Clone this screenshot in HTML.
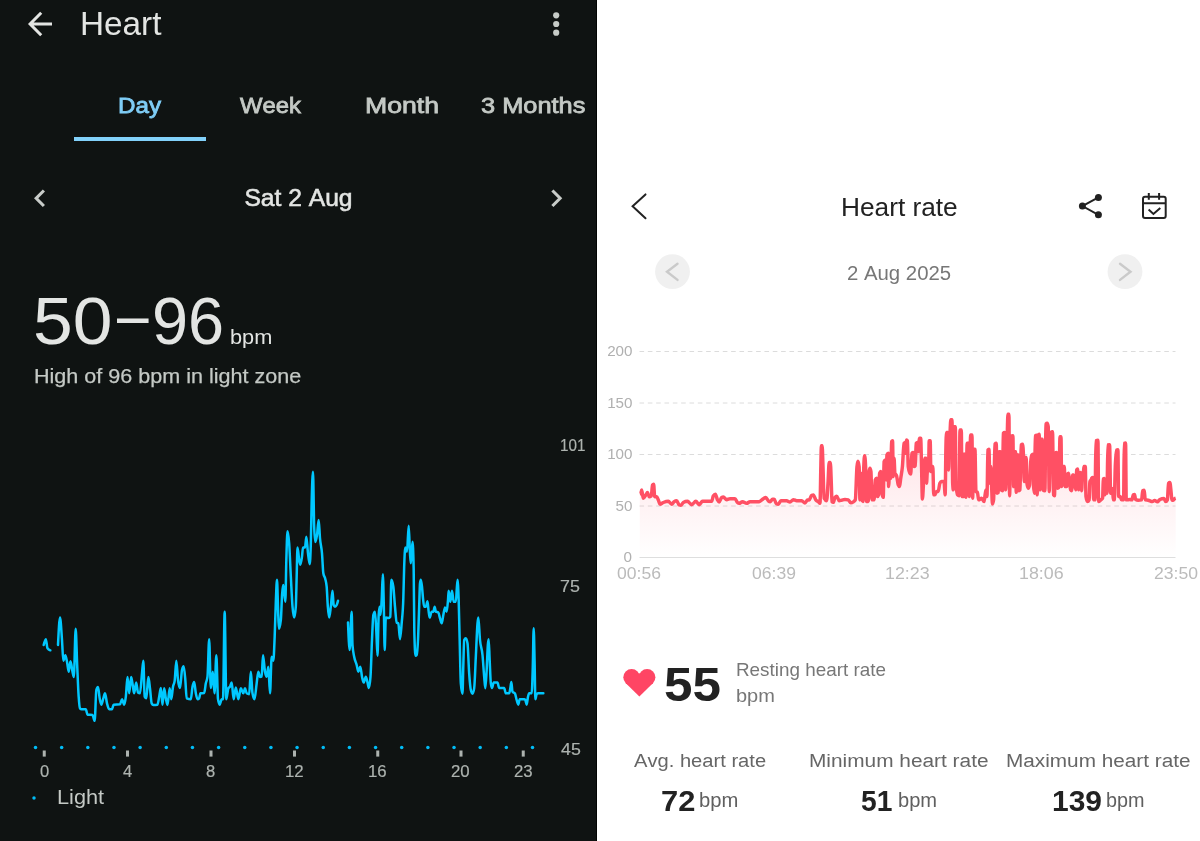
<!DOCTYPE html>
<html lang="en">
<head>
<meta charset="utf-8">
<title>Heart rate comparison</title>
<style>
html,body{margin:0;padding:0;}
body{width:1200px;height:841px;overflow:hidden;background:#ffffff;position:relative;font-family:"Liberation Sans",sans-serif;font-kerning:none;}
.panel{position:absolute;top:0;height:841px;}
#left{left:0;width:597px;background:#0f1312;}
#left:after{content:"";position:absolute;right:0;top:0;width:1px;height:841px;background:#020403;}
#right{left:597px;width:603px;background:#ffffff;}
.t{position:absolute;white-space:nowrap;margin:0;padding:0;transform-origin:0 0;}
svg{position:absolute;left:0;top:0;}
.tabline{position:absolute;left:74.4px;top:137px;width:131.3px;height:3.5px;background:#82d1fa;}
</style>
</head>
<body>
<div class="panel" id="left"></div>
<div class="panel" id="right"></div>
<div class="tabline"></div>
<svg width="1200" height="841" viewBox="0 0 1200 841">
  <defs>
    <linearGradient id="rg" x1="0" y1="410" x2="0" y2="557.5" gradientUnits="userSpaceOnUse">
      <stop offset="0" stop-color="#ff4d62" stop-opacity="0.2"/>
      <stop offset="1" stop-color="#ff4d62" stop-opacity="0"/>
    </linearGradient>
  </defs>
  <!-- left: icons -->
  <g fill="none" stroke="#e3e5e3" stroke-width="3" stroke-linecap="butt" stroke-linejoin="miter">
    <path d="M52,24H31M41.2,12.8L30.1,24L41.2,35.2"/>
  </g>
  <g fill="#c6cbc7">
    <circle cx="556.2" cy="15.3" r="3.1"/><circle cx="556.2" cy="24" r="3.1"/><circle cx="556.2" cy="32.7" r="3.1"/>
  </g>
  <g fill="none" stroke="#c8ccc9" stroke-width="3.1">
    <path d="M43.9,190.5L36.2,198.25L43.9,206"/>
    <path d="M552.4,190.5L560.1,198.25L552.4,206"/>
  </g>
  <!-- left: chart -->
  <g fill="none" stroke="#00c8ff" stroke-width="2.5" stroke-linecap="round" stroke-linejoin="round"><path d="M43.67,645.00C44.39,642.08 45.11,639.17 45.83,639.17C46.39,639.17 46.94,647.55 47.50,648.33C48.44,649.67 49.39,650.00 50.33,650.33"/><path d="M58.00,645.00C58.67,631.25 59.33,617.50 60.00,617.50C60.67,617.50 61.33,630.75 62.00,640.00C62.44,646.17 62.89,660.83 63.33,660.83C64.00,660.83 64.67,655.33 65.33,655.33C65.89,655.33 66.44,658.94 67.00,661.67C67.56,664.39 68.11,671.67 68.67,671.67C69.28,671.67 69.89,661.33 70.50,661.33C71.17,661.33 71.83,668.69 72.50,671.67C72.94,673.65 73.39,677.00 73.83,677.00C74.44,677.00 75.06,628.67 75.67,628.67C76.17,628.67 76.67,653.67 77.17,665.00C77.67,676.33 78.17,689.38 78.67,696.67C79.11,703.14 79.56,707.80 80.00,708.33C80.56,709.00 81.11,709.33 81.67,709.33C83.06,709.33 84.44,709.33 85.83,709.33C86.39,709.33 86.94,714.59 87.50,714.67C89.17,714.89 90.83,714.78 92.50,715.00C93.22,715.10 93.94,720.83 94.67,720.83C95.22,720.83 95.78,692.00 96.33,690.00C96.89,688.00 97.44,687.00 98.00,687.00C98.56,687.00 99.11,695.39 99.67,698.33C100.22,701.28 100.78,704.67 101.33,704.67C102.00,704.67 102.67,700.38 103.33,698.33C103.89,696.62 104.44,693.33 105.00,693.33C105.67,693.33 106.33,700.74 107.00,703.33C107.72,706.14 108.44,709.17 109.17,709.17C110.11,709.17 111.06,709.17 112.00,709.17C112.56,709.17 113.11,704.73 113.67,704.67C115.78,704.44 117.89,704.56 120.00,704.33C120.67,704.26 121.33,699.17 122.00,699.17C122.72,699.17 123.44,704.67 124.17,704.67C124.72,704.67 125.28,701.28 125.83,696.67C126.39,692.06 126.94,677.00 127.50,677.00C128.06,677.00 128.61,693.33 129.17,693.33C129.83,693.33 130.50,677.00 131.17,677.00C131.72,677.00 132.28,682.79 132.83,685.83C133.28,688.27 133.72,693.33 134.17,693.33C134.83,693.33 135.50,682.50 136.17,682.50C136.78,682.50 137.39,691.99 138.00,692.50C138.67,693.06 139.33,693.33 140.00,693.33C140.67,693.33 141.33,679.75 142.00,673.33C142.44,669.06 142.89,660.83 143.33,660.83C143.78,660.83 144.22,695.78 144.67,696.67C145.22,697.78 145.78,698.33 146.33,698.33C147.00,698.33 147.67,677.00 148.33,677.00C148.89,677.00 149.44,683.94 150.00,688.33C150.56,692.72 151.11,702.22 151.67,703.33C152.22,704.44 152.78,705.00 153.33,705.00C154.72,705.00 156.11,704.89 157.50,704.67C158.06,704.58 158.61,699.44 159.17,696.67C159.72,693.89 160.28,688.00 160.83,688.00C161.39,688.00 161.94,704.67 162.50,704.67C163.06,704.67 163.61,688.33 164.17,688.33C164.72,688.33 165.28,695.56 165.83,698.33C166.39,701.11 166.94,705.00 167.50,705.00C168.22,705.00 168.94,688.33 169.67,688.33C170.22,688.33 170.78,699.17 171.33,699.17C171.89,699.17 172.44,689.72 173.00,686.67C173.56,683.61 174.11,684.72 174.67,680.83C175.22,676.94 175.78,660.83 176.33,660.83C176.89,660.83 177.44,675.56 178.00,680.00C178.67,685.33 179.33,688.00 180.00,688.00C180.67,688.00 181.33,672.93 182.00,670.00C182.56,667.56 183.11,666.33 183.67,666.33C184.22,666.33 184.78,673.73 185.33,680.00C185.78,685.01 186.22,698.16 186.67,698.33C188.06,698.89 189.44,699.17 190.83,699.17C191.39,699.17 191.94,689.53 192.50,686.67C193.06,683.81 193.61,682.00 194.17,682.00C194.72,682.00 195.28,690.47 195.83,693.33C196.39,696.19 196.94,699.17 197.50,699.17C198.06,699.17 198.61,698.89 199.17,698.33C199.56,697.94 199.94,693.40 200.33,693.33C201.61,693.11 202.89,693.22 204.17,693.00C204.72,692.90 205.28,686.06 205.83,683.33C206.39,680.61 206.94,681.11 207.50,676.67C208.06,672.22 208.61,639.17 209.17,639.17C209.72,639.17 210.28,688.00 210.83,688.00C211.50,688.00 212.17,671.67 212.83,671.67C213.39,671.67 213.94,693.33 214.50,693.33C215.11,693.33 215.72,655.33 216.33,655.33C216.89,655.33 217.44,695.50 218.00,699.17C218.56,702.83 219.11,704.67 219.67,704.67C220.33,704.67 221.00,699.17 221.67,699.17C222.11,699.17 222.56,699.17 223.00,699.17C223.56,699.17 224.11,611.67 224.67,611.67C225.22,611.67 225.78,699.17 226.33,699.17C227.00,699.17 227.67,689.67 228.33,688.33C228.89,687.22 229.44,687.64 230.00,686.67C230.56,685.69 231.11,682.50 231.67,682.50C232.33,682.50 233.00,699.17 233.67,699.17C234.39,699.17 235.11,687.50 235.83,687.50C236.67,687.50 237.50,699.17 238.33,699.17C239.17,699.17 240.00,688.33 240.83,688.33C241.67,688.33 242.50,693.33 243.33,693.33C243.89,693.33 244.44,688.33 245.00,688.33C245.56,688.33 246.11,692.96 246.67,693.33C247.50,693.89 248.33,694.17 249.17,694.17C249.72,694.17 250.28,671.67 250.83,671.67C251.39,671.67 251.94,690.09 252.50,693.33C253.17,697.22 253.83,699.17 254.50,699.17C255.22,699.17 255.94,688.49 256.67,683.33C257.22,679.37 257.78,671.67 258.33,671.67C258.89,671.67 259.44,677.00 260.00,677.00C260.56,677.00 261.11,676.89 261.67,676.67C262.11,676.49 262.56,655.33 263.00,655.33C263.67,655.33 264.33,668.10 265.00,671.67C265.56,674.64 266.11,676.67 266.67,676.67C267.22,676.67 267.78,666.67 268.33,666.67C268.89,666.67 269.44,693.33 270.00,693.33C270.56,693.33 271.11,656.67 271.67,656.67C272.22,656.67 272.78,660.83 273.33,660.83C273.78,660.83 274.22,647.54 274.67,636.67C275.06,627.16 275.44,611.17 275.83,601.67C276.22,592.17 276.61,579.67 277.00,579.67C277.33,579.67 277.67,597.78 278.00,606.67C278.28,614.08 278.56,628.67 278.83,628.67C279.50,628.67 280.17,625.78 280.83,620.00C281.28,616.15 281.72,599.17 282.17,593.33C282.56,588.22 282.94,585.00 283.33,585.00C284.00,585.00 284.67,601.67 285.33,601.67C285.67,601.67 286.00,571.26 286.33,560.00C286.72,546.86 287.11,531.33 287.50,531.33C288.06,531.33 288.61,535.78 289.17,543.33C289.72,550.89 290.28,566.11 290.83,576.67C291.39,587.22 291.94,599.86 292.50,606.67C293.06,613.47 293.61,617.50 294.17,617.50C294.72,617.50 295.28,613.89 295.83,606.67C296.11,603.06 296.39,586.53 296.67,576.67C296.94,566.81 297.22,547.50 297.50,547.50C298.06,547.50 298.61,556.98 299.17,560.00C299.56,562.12 299.94,564.67 300.33,564.67C300.89,564.67 301.44,560.85 302.00,556.67C302.33,554.16 302.67,547.50 303.00,547.50C303.67,547.50 304.33,547.50 305.00,547.50C305.44,547.50 305.89,536.67 306.33,536.67C306.89,536.67 307.44,548.75 308.00,553.33C308.56,557.92 309.11,564.17 309.67,564.17C310.06,564.17 310.44,557.22 310.83,543.33C311.11,533.41 311.39,512.62 311.67,501.67C312.11,484.15 312.56,471.67 313.00,471.67C313.39,471.67 313.78,516.44 314.17,526.67C314.56,536.89 314.94,542.00 315.33,542.00C315.89,542.00 316.44,538.67 317.00,535.00C317.56,531.33 318.11,520.00 318.67,520.00C319.11,520.00 319.56,533.33 320.00,538.33C320.67,545.83 321.33,545.33 322.00,553.33C322.44,558.67 322.89,570.74 323.33,573.33C324.00,577.22 324.67,576.14 325.33,579.17C325.78,581.19 326.22,581.67 326.67,586.67C327.06,591.04 327.44,601.64 327.83,606.67C328.28,612.42 328.72,617.50 329.17,617.50C329.72,617.50 330.28,611.11 330.83,606.67C331.39,602.22 331.94,590.83 332.50,590.83C332.89,590.83 333.28,604.03 333.67,605.00C334.11,606.11 334.56,606.67 335.00,606.67C335.56,606.67 336.11,606.11 336.67,605.00C337.11,604.11 337.56,602.47 338.00,600.83"/><path d="M348.00,622.50C348.56,636.25 349.11,650.00 349.67,650.00C350.33,650.00 351.00,611.67 351.67,611.67C351.94,611.67 352.22,641.11 352.50,645.00C353.06,652.78 353.61,653.59 354.17,656.67C355.00,661.28 355.83,661.89 356.67,665.00C357.22,667.07 357.78,671.67 358.33,671.67C359.00,671.67 359.67,666.67 360.33,666.67C360.89,666.67 361.44,674.03 362.00,676.67C362.56,679.31 363.11,682.50 363.67,682.50C364.39,682.50 365.11,676.67 365.83,676.67C366.39,676.67 366.94,680.36 367.50,682.50C367.94,684.21 368.39,688.00 368.83,688.00C369.39,688.00 369.94,684.22 370.50,676.67C371.00,669.87 371.50,650.71 372.00,640.00C372.44,630.48 372.89,616.78 373.33,615.00C373.89,612.78 374.44,611.67 375.00,611.67C375.44,611.67 375.89,623.65 376.33,631.67C376.72,638.69 377.11,655.83 377.50,655.83C377.89,655.83 378.28,621.48 378.67,615.00C379.00,609.44 379.33,606.67 379.67,606.67C379.94,606.67 380.22,615.00 380.50,615.00C380.89,615.00 381.28,606.81 381.67,600.00C382.06,593.19 382.44,574.17 382.83,574.17C383.17,574.17 383.50,592.29 383.83,606.67C384.11,618.65 384.39,650.00 384.67,650.00C385.06,650.00 385.44,617.50 385.83,617.50C386.67,617.50 387.50,618.00 388.33,618.00C389.00,618.00 389.67,617.56 390.33,616.67C390.67,616.22 391.00,579.67 391.33,579.67C392.00,579.67 392.67,582.00 393.33,586.67C393.89,590.56 394.44,600.69 395.00,606.67C395.56,612.64 396.11,621.94 396.67,622.50C397.22,623.06 397.78,622.78 398.33,623.33C398.89,623.89 399.44,639.17 400.00,639.17C400.56,639.17 401.11,630.14 401.67,623.33C402.22,616.53 402.78,615.00 403.33,598.33C403.61,590.00 403.89,574.73 404.17,566.67C404.56,555.38 404.94,547.50 405.33,547.50C405.89,547.50 406.44,551.67 407.00,551.67C407.56,551.67 408.11,525.83 408.67,525.83C409.11,525.83 409.56,546.53 410.00,553.33C410.28,557.59 410.56,563.33 410.83,563.33C411.39,563.33 411.94,541.67 412.50,541.67C412.89,541.67 413.28,550.56 413.67,568.33C413.89,578.49 414.11,622.46 414.33,631.67C414.72,647.78 415.11,655.83 415.50,655.83C415.89,655.83 416.28,655.56 416.67,655.00C417.11,654.37 417.56,649.11 418.00,640.00C418.39,632.03 418.78,617.65 419.17,606.67C419.44,598.82 419.72,585.78 420.00,583.33C420.28,580.89 420.56,579.67 420.83,579.67C421.22,579.67 421.61,583.15 422.00,586.67C422.33,589.68 422.67,595.14 423.00,598.33C423.39,602.06 423.78,606.67 424.17,606.67C424.72,606.67 425.28,606.67 425.83,606.67C426.39,606.67 426.94,601.33 427.50,601.33C427.89,601.33 428.28,608.86 428.67,611.67C429.00,614.08 429.33,617.50 429.67,617.50C430.33,617.50 431.00,611.67 431.67,611.67C432.22,611.67 432.78,611.67 433.33,611.67C433.78,611.67 434.22,606.67 434.67,606.67C435.06,606.67 435.44,611.41 435.83,611.67C436.67,612.22 437.50,611.94 438.33,612.50C438.89,612.87 439.44,616.53 440.00,618.33C440.56,620.14 441.11,623.33 441.67,623.33C442.22,623.33 442.78,617.64 443.33,615.00C443.89,612.36 444.44,607.50 445.00,607.50C445.56,607.50 446.11,611.67 446.67,611.67C447.11,611.67 447.56,605.37 448.00,600.00C448.22,597.31 448.44,590.83 448.67,590.83C449.22,590.83 449.78,601.67 450.33,601.67C450.89,601.67 451.44,590.83 452.00,590.83C452.56,590.83 453.11,601.67 453.67,601.67C454.39,601.67 455.11,601.67 455.83,601.67C456.39,601.67 456.94,579.67 457.50,579.67C457.89,579.67 458.28,588.50 458.67,600.00C459.00,609.86 459.33,627.11 459.67,640.00C460.06,655.04 460.44,678.51 460.83,683.33C461.39,690.22 461.94,693.67 462.50,693.67C462.78,693.67 463.06,673.94 463.33,665.00C463.61,656.06 463.89,640.56 464.17,640.00C464.72,638.89 465.28,638.33 465.83,638.33C466.39,638.33 466.94,640.00 467.50,643.33C468.06,646.67 468.61,665.56 469.17,673.33C469.72,681.11 470.28,687.56 470.83,690.00C471.39,692.44 471.94,693.67 472.50,693.67C473.06,693.67 473.61,691.89 474.17,688.33C474.72,684.78 475.28,667.50 475.83,656.67C476.39,645.83 476.94,629.63 477.50,623.33C477.78,620.19 478.06,617.50 478.33,617.50C478.89,617.50 479.44,634.17 480.00,640.00C480.83,648.75 481.67,646.50 482.50,655.00C483.06,660.67 483.61,670.42 484.17,676.67C484.56,681.04 484.94,688.33 485.33,688.33C485.78,688.33 486.22,677.93 486.67,670.00C487.06,663.06 487.44,650.06 487.83,645.00C488.11,641.39 488.39,639.17 488.67,639.17C489.00,639.17 489.33,653.18 489.67,660.00C490.06,667.95 490.44,680.22 490.83,683.33C491.22,686.44 491.61,688.00 492.00,688.00C492.56,688.00 493.11,682.50 493.67,682.50C494.94,682.50 496.22,682.50 497.50,682.50C498.06,682.50 498.61,688.00 499.17,688.00C500.83,688.00 502.50,688.00 504.17,688.00C504.72,688.00 505.28,693.33 505.83,693.33C506.94,693.33 508.06,693.33 509.17,693.33C509.56,693.33 509.94,690.43 510.33,688.33C510.67,686.54 511.00,682.00 511.33,682.00C511.72,682.00 512.11,691.04 512.50,691.67C513.33,693.00 514.17,692.33 515.00,693.67C515.56,694.56 516.11,698.17 516.67,700.00C517.22,701.83 517.78,704.67 518.33,704.67C518.78,704.67 519.22,699.17 519.67,699.17C521.17,699.17 522.67,699.17 524.17,699.17C524.56,699.17 524.94,699.44 525.33,700.00C525.78,700.63 526.22,704.67 526.67,704.67C527.11,704.67 527.56,698.59 528.00,696.67C528.39,694.99 528.78,693.33 529.17,693.33C530.00,693.33 530.83,693.33 531.67,693.33C532.06,693.33 532.44,678.92 532.83,665.00C533.11,655.06 533.39,628.33 533.67,628.33C534.00,628.33 534.33,649.86 534.67,665.00C534.89,675.09 535.11,699.17 535.33,699.17C535.78,699.17 536.22,694.61 536.67,694.17C537.22,693.61 537.78,693.33 538.33,693.33C540.00,693.33 541.67,693.33 543.33,693.33"/></g>
  <g fill="#00bcf6"><circle cx="35.50" cy="747.5" r="1.75"/><circle cx="61.66" cy="747.5" r="1.75"/><circle cx="87.82" cy="747.5" r="1.75"/><circle cx="113.97" cy="747.5" r="1.75"/><circle cx="140.13" cy="747.5" r="1.75"/><circle cx="166.29" cy="747.5" r="1.75"/><circle cx="192.45" cy="747.5" r="1.75"/><circle cx="218.61" cy="747.5" r="1.75"/><circle cx="244.76" cy="747.5" r="1.75"/><circle cx="270.92" cy="747.5" r="1.75"/><circle cx="297.08" cy="747.5" r="1.75"/><circle cx="323.24" cy="747.5" r="1.75"/><circle cx="349.40" cy="747.5" r="1.75"/><circle cx="375.55" cy="747.5" r="1.75"/><circle cx="401.71" cy="747.5" r="1.75"/><circle cx="427.87" cy="747.5" r="1.75"/><circle cx="454.03" cy="747.5" r="1.75"/><circle cx="480.19" cy="747.5" r="1.75"/><circle cx="506.34" cy="747.5" r="1.75"/><circle cx="532.50" cy="747.5" r="1.75"/><circle cx="34" cy="798" r="1.75"/></g>
  <g fill="#adb3af"><rect x="42.75" y="750.5" width="3" height="6.1"/><rect x="126.00" y="750.5" width="3" height="6.1"/><rect x="209.50" y="750.5" width="3" height="6.1"/><rect x="293.00" y="750.5" width="3" height="6.1"/><rect x="376.25" y="750.5" width="3" height="6.1"/><rect x="459.50" y="750.5" width="3" height="6.1"/><rect x="521.75" y="750.5" width="3" height="6.1"/></g>
  <!-- right: chart -->
  <g stroke="#dcdcdc" stroke-width="1" stroke-dasharray="4.6 3.73" fill="none"><line x1="639.5" x2="1175.5" y1="351.5" y2="351.5"/><line x1="639.5" x2="1175.5" y1="403.0" y2="403.0"/><line x1="639.5" x2="1175.5" y1="454.5" y2="454.5"/><line x1="639.5" x2="1175.5" y1="506.0" y2="506.0"/></g>
  <line x1="639.5" x2="1175.5" y1="557.5" y2="557.5" stroke="#dedede" stroke-width="1"/>
  <path d="M639.80,494.00C640.14,493.89 640.49,493.78 640.83,493.33C641.11,492.97 641.39,490.00 641.67,490.00C642.22,490.00 642.78,498.33 643.33,498.33C644.17,498.33 645.00,496.19 645.83,495.00C646.39,494.20 646.94,492.50 647.50,492.50C648.06,492.50 648.61,496.67 649.17,496.67C649.89,496.67 650.61,496.39 651.33,495.83C651.72,495.53 652.11,485.56 652.50,485.00C652.89,484.44 653.28,484.17 653.67,484.17C654.00,484.17 654.33,496.67 654.67,496.67C655.33,496.67 656.00,496.67 656.67,496.67C657.22,496.67 657.78,498.75 658.33,500.00C658.89,501.25 659.44,504.17 660.00,504.17C661.11,504.17 662.22,502.94 663.33,502.50C665.00,501.84 666.67,501.33 668.33,501.33C669.44,501.33 670.56,504.17 671.67,504.17C672.50,504.17 673.33,502.22 674.17,501.67C675.00,501.11 675.83,500.83 676.67,500.83C677.50,500.83 678.33,504.67 679.17,505.00C679.72,505.22 680.28,505.33 680.83,505.33C681.67,505.33 682.50,502.97 683.33,502.50C684.72,501.72 686.11,501.33 687.50,501.33C688.89,501.33 690.28,504.67 691.67,504.67C693.06,504.67 694.44,501.33 695.83,501.33C696.94,501.33 698.06,504.67 699.17,504.67C700.28,504.67 701.39,501.33 702.50,501.33C705.56,501.33 708.61,501.33 711.67,501.33C712.22,501.33 712.78,496.76 713.33,495.83C714.00,494.72 714.67,494.17 715.33,494.17C716.06,494.17 716.78,498.66 717.50,500.00C718.06,501.03 718.61,502.00 719.17,502.00C720.00,502.00 720.83,498.00 721.67,497.50C722.22,497.17 722.78,497.00 723.33,497.00C724.44,497.00 725.56,499.67 726.67,499.67C727.78,499.67 728.89,498.67 730.00,498.67C731.67,498.67 733.33,498.67 735.00,498.67C735.83,498.67 736.67,501.74 737.50,502.50C738.06,503.01 738.61,503.33 739.17,503.33C740.28,503.33 741.39,501.67 742.50,501.67C743.89,501.67 745.28,503.33 746.67,503.33C747.78,503.33 748.89,501.67 750.00,501.67C753.06,501.67 756.11,501.67 759.17,501.67C760.56,501.67 761.94,499.45 763.33,498.67C764.17,498.20 765.00,497.50 765.83,497.50C766.67,497.50 767.50,500.15 768.33,500.83C769.00,501.38 769.67,501.67 770.33,501.67C771.06,501.67 771.78,499.17 772.50,499.17C773.06,499.17 773.61,499.17 774.17,499.17C774.89,499.17 775.61,503.31 776.33,503.67C777.00,504.00 777.67,504.17 778.33,504.17C779.17,504.17 780.00,500.83 780.83,500.83C782.78,500.83 784.72,500.83 786.67,500.83C787.78,500.83 788.89,502.00 790.00,502.00C791.11,502.00 792.22,499.67 793.33,499.67C794.44,499.67 795.56,500.67 796.67,500.67C798.33,500.67 800.00,500.67 801.67,500.67C802.78,500.67 803.89,503.00 805.00,503.00C805.83,503.00 806.67,500.00 807.50,500.00C808.06,500.00 808.61,500.00 809.17,500.00C810.00,500.00 810.83,495.67 811.67,495.33C812.22,495.11 812.78,495.00 813.33,495.00C814.17,495.00 815.00,498.89 815.83,500.00C816.67,501.11 817.50,500.98 818.33,501.67C818.89,502.12 819.44,503.21 820.00,503.21C820.28,503.21 820.55,478.39 820.83,466.59C821.00,459.51 821.17,445.78 821.33,445.78C821.61,445.78 821.89,445.78 822.16,445.78C822.44,445.78 822.72,459.40 823.00,466.59C823.38,476.64 823.77,497.44 824.16,498.22C824.99,499.88 825.83,500.71 826.66,500.71C827.10,500.71 827.55,490.18 827.99,483.23C828.38,477.16 828.77,462.43 829.16,462.43C829.54,462.43 829.93,462.43 830.32,462.43C830.65,462.43 830.99,474.97 831.32,483.23C831.54,488.75 831.76,501.27 831.99,501.55C832.43,502.10 832.87,502.38 833.32,502.38C833.87,502.38 834.43,498.16 834.98,497.38C835.54,496.61 836.09,496.22 836.65,496.22C837.48,496.22 838.31,500.71 839.14,500.71C839.98,500.71 840.81,500.38 841.64,500.21C842.75,499.99 843.86,499.55 844.97,499.55C846.08,499.55 847.19,499.66 848.30,499.88C849.13,500.05 849.96,502.88 850.80,502.88C851.63,502.88 852.46,502.49 853.29,501.88C853.96,501.39 854.63,501.21 855.29,499.88C855.85,498.77 856.40,472.51 856.96,466.59C857.29,463.04 857.62,461.26 857.95,461.26C858.34,461.26 858.73,463.04 859.12,466.59C859.40,469.12 859.67,499.88 859.95,499.88C860.29,499.88 860.62,473.25 860.95,473.25C861.28,473.25 861.62,498.77 861.95,499.88C862.28,500.99 862.62,501.55 862.95,501.55C863.23,501.55 863.50,473.80 863.78,466.59C864.06,459.37 864.34,455.77 864.61,455.77C864.95,455.77 865.28,459.37 865.61,466.59C865.95,473.80 866.28,501.55 866.61,501.55C867.17,501.55 867.72,501.55 868.28,501.55C868.55,501.55 868.83,473.80 869.11,471.58C869.39,469.36 869.66,468.25 869.94,468.25C870.27,468.25 870.61,469.36 870.94,471.58C871.27,473.80 871.61,499.88 871.94,499.88C872.66,499.88 873.38,499.88 874.10,499.88C874.49,499.88 874.88,480.88 875.27,479.90C875.71,478.80 876.16,478.24 876.60,478.24C876.88,478.24 877.15,496.55 877.43,496.55C877.82,496.55 878.21,496.00 878.60,494.89C878.93,493.94 879.26,474.20 879.60,473.25C879.98,472.14 880.37,471.58 880.76,471.58C881.15,471.58 881.54,490.79 881.93,493.22C882.37,496.00 882.81,497.38 883.26,497.38C883.54,497.38 883.81,462.39 884.09,461.59C884.48,460.48 884.87,459.93 885.26,459.93C885.59,459.93 885.92,479.90 886.25,479.90C886.48,479.90 886.70,455.49 886.92,454.93C887.36,453.82 887.81,453.27 888.25,453.27C888.36,453.27 888.47,486.56 888.59,486.56C889.03,486.56 889.47,463.26 889.92,463.26C890.19,463.26 890.47,478.24 890.75,478.24C891.03,478.24 891.30,442.08 891.58,441.62C891.91,441.06 892.25,440.78 892.58,440.78C892.80,440.78 893.02,476.58 893.25,476.58C893.52,476.58 893.80,458.26 894.08,458.26C894.36,458.26 894.63,472.41 894.91,473.25C895.47,474.91 896.02,474.08 896.58,475.74C897.13,477.41 897.69,483.51 898.24,484.90C898.68,486.01 899.13,486.56 899.57,486.56C899.96,486.56 900.35,480.99 900.74,478.24C901.29,474.31 901.85,472.41 902.40,466.59C902.96,460.76 903.51,444.07 904.07,443.28C904.46,442.73 904.84,442.45 905.23,442.45C905.40,442.45 905.56,453.27 905.73,453.27C906.01,453.27 906.29,439.95 906.56,439.95C906.84,439.95 907.12,440.23 907.40,440.78C907.67,441.34 907.95,464.37 908.23,466.59C908.78,471.03 909.34,472.14 909.89,473.25C910.17,473.80 910.45,474.08 910.73,474.08C911.11,474.08 911.50,453.76 911.89,453.27C912.33,452.72 912.78,452.44 913.22,452.44C913.50,452.44 913.78,466.59 914.05,466.59C914.44,466.59 914.83,466.31 915.22,465.76C915.55,465.28 915.89,443.76 916.22,443.28C916.61,442.73 917.00,442.45 917.38,442.45C917.66,442.45 917.94,451.61 918.22,451.61C918.66,451.61 919.10,438.29 919.55,438.29C919.94,438.29 920.33,438.29 920.71,438.29C920.99,438.29 921.27,456.46 921.55,466.59C921.82,476.71 922.10,499.05 922.38,499.05C922.77,499.05 923.15,489.44 923.54,483.23C923.99,476.14 924.43,458.26 924.88,458.26C925.26,458.26 925.65,458.26 926.04,458.26C926.21,458.26 926.37,483.23 926.54,483.23C926.82,483.23 927.09,471.98 927.37,471.58C927.76,471.03 928.15,471.30 928.54,470.75C928.76,470.43 928.98,440.78 929.20,440.78C929.54,440.78 929.87,440.78 930.20,440.78C930.42,440.78 930.65,471.58 930.87,471.58C931.20,471.58 931.53,466.59 931.87,466.59C932.20,466.59 932.53,466.59 932.87,466.59C933.14,466.59 933.42,494.89 933.70,494.89C934.09,494.89 934.47,494.89 934.86,494.89C935.42,494.89 935.97,491.56 936.53,491.56C937.08,491.56 937.64,491.56 938.19,491.56C938.75,491.56 939.30,484.34 939.86,483.23C940.41,482.12 940.97,481.57 941.52,481.57C942.35,481.57 943.19,481.57 944.02,481.57C944.41,481.57 944.80,494.89 945.18,494.89C945.41,494.89 945.63,460.34 945.85,449.94C946.07,439.54 946.29,432.46 946.52,432.46C946.96,432.46 947.40,432.46 947.85,432.46C948.07,432.46 948.29,469.92 948.51,469.92C948.74,469.92 948.96,455.63 949.18,449.94C949.45,442.93 949.73,438.31 950.00,433.29C950.28,428.20 950.55,419.64 950.83,419.64C951.22,419.64 951.61,419.64 952.00,419.64C952.22,419.64 952.44,478.80 952.66,483.23C952.89,487.67 953.11,489.89 953.33,489.89C953.55,489.89 953.77,426.63 954.00,426.63C954.44,426.63 954.88,426.63 955.33,426.63C955.55,426.63 955.77,479.78 955.99,483.23C956.49,491.00 956.99,494.39 957.49,494.89C958.05,495.44 958.60,495.72 959.16,495.72C959.43,495.72 959.71,429.96 959.99,429.96C960.43,429.96 960.88,429.96 961.32,429.96C961.54,429.96 961.76,496.55 961.99,496.55C962.54,496.55 963.10,496.55 963.65,496.55C963.87,496.55 964.09,454.10 964.32,454.10C964.65,454.10 964.98,454.10 965.32,454.10C965.54,454.10 965.76,497.38 965.98,497.38C966.37,497.38 966.76,443.28 967.15,443.28C967.65,443.28 968.15,443.28 968.64,443.28C968.87,443.28 969.09,496.55 969.31,496.55C969.75,496.55 970.20,434.96 970.64,434.96C971.09,434.96 971.53,434.96 971.97,434.96C972.20,434.96 972.42,498.22 972.64,498.22C972.97,498.22 973.31,449.11 973.64,449.11C974.08,449.11 974.53,449.11 974.97,449.11C975.30,449.11 975.64,491.19 975.97,491.56C976.47,492.11 976.97,491.84 977.47,492.39C977.86,492.82 978.24,499.88 978.63,499.88C979.63,499.88 980.63,498.22 981.63,498.22C982.46,498.22 983.29,501.55 984.13,501.55C984.68,501.55 985.24,489.89 985.79,489.89C986.18,489.89 986.57,496.55 986.96,496.55C987.29,496.55 987.62,450.50 987.95,449.94C988.29,449.39 988.62,449.11 988.95,449.11C989.29,449.11 989.62,483.23 989.95,483.23C990.23,483.23 990.51,466.59 990.78,466.59C991.06,466.59 991.34,480.32 991.62,486.56C991.89,492.81 992.17,504.04 992.45,504.04C992.84,504.04 993.23,502.66 993.61,499.88C994.06,496.71 994.50,444.67 994.95,444.11C995.39,443.56 995.83,443.28 996.28,443.28C996.50,443.28 996.72,493.22 996.94,493.22C997.39,493.22 997.83,492.94 998.28,492.39C998.55,492.04 998.83,451.61 999.11,451.61C999.50,451.61 999.89,451.61 1000.27,451.61C1000.50,451.61 1000.72,489.67 1000.94,489.89C1001.49,490.45 1002.05,490.73 1002.60,490.73C1002.83,490.73 1003.05,433.57 1003.27,433.29C1003.71,432.74 1004.16,432.46 1004.60,432.46C1004.93,432.46 1005.27,489.89 1005.60,489.89C1006.16,489.89 1006.71,450.08 1007.27,433.29C1007.49,426.58 1007.71,414.15 1007.93,414.15C1008.26,414.15 1008.60,414.15 1008.93,414.15C1009.15,414.15 1009.37,495.72 1009.60,495.72C1009.98,495.72 1010.37,436.92 1010.76,436.62C1011.48,436.07 1012.20,435.79 1012.93,435.79C1013.15,435.79 1013.37,486.56 1013.59,486.56C1013.92,486.56 1014.26,451.61 1014.59,451.61C1014.92,451.61 1015.26,451.61 1015.59,451.61C1015.81,451.61 1016.03,492.39 1016.25,492.39C1016.64,492.39 1017.03,454.93 1017.42,454.93C1017.70,454.93 1017.97,454.93 1018.25,454.93C1018.47,454.93 1018.70,490.73 1018.92,490.73C1019.25,490.73 1019.58,490.45 1019.92,489.89C1020.36,489.15 1020.80,445.50 1021.25,444.95C1021.69,444.39 1022.14,444.11 1022.58,444.11C1022.91,444.11 1023.25,449.39 1023.58,458.26C1023.80,464.18 1024.02,481.57 1024.24,481.57C1024.58,481.57 1024.91,457.43 1025.24,457.43C1025.58,457.43 1025.91,457.43 1026.24,457.43C1026.46,457.43 1026.69,481.57 1026.91,483.23C1027.35,486.56 1027.80,488.23 1028.24,488.23C1028.68,488.23 1029.13,487.12 1029.57,484.90C1029.96,482.96 1030.35,466.03 1030.74,461.59C1031.13,457.15 1031.51,455.58 1031.90,454.93C1032.24,454.38 1032.57,454.10 1032.90,454.10C1033.12,454.10 1033.35,483.60 1033.57,486.56C1033.90,491.00 1034.23,493.22 1034.57,493.22C1034.79,493.22 1035.01,435.96 1035.23,435.79C1035.68,435.46 1036.12,435.29 1036.56,435.29C1036.79,435.29 1037.01,494.89 1037.23,494.89C1037.56,494.89 1037.90,435.51 1038.23,434.96C1038.56,434.40 1038.89,434.13 1039.23,434.13C1039.45,434.13 1039.67,489.89 1039.89,489.89C1040.23,489.89 1040.56,439.12 1040.89,439.12C1041.34,439.12 1041.78,439.12 1042.22,439.12C1042.45,439.12 1042.67,489.71 1042.89,489.89C1043.56,490.45 1044.22,490.73 1044.89,490.73C1045.22,490.73 1045.55,424.55 1045.89,424.14C1046.33,423.58 1046.77,423.31 1047.22,423.31C1047.55,423.31 1047.88,424.42 1048.22,426.63C1048.55,428.85 1048.88,491.56 1049.22,491.56C1049.66,491.56 1050.10,434.40 1050.55,433.29C1050.99,432.18 1051.43,431.63 1051.88,431.63C1052.10,431.63 1052.32,431.63 1052.54,431.63C1052.88,431.63 1053.21,494.33 1053.54,494.89C1053.88,495.44 1054.21,495.72 1054.54,495.72C1054.76,495.72 1054.99,453.55 1055.21,453.27C1055.65,452.72 1056.10,452.44 1056.54,452.44C1056.87,452.44 1057.21,488.23 1057.54,488.23C1057.98,488.23 1058.43,487.95 1058.87,487.40C1059.25,486.93 1059.62,436.62 1060.00,436.62C1060.33,436.62 1060.67,436.62 1061.00,436.62C1061.22,436.62 1061.44,486.56 1061.66,486.56C1062.11,486.56 1062.55,466.59 1063.00,466.59C1063.44,466.59 1063.88,466.59 1064.33,466.59C1064.55,466.59 1064.77,486.56 1064.99,486.56C1065.55,486.56 1066.10,486.56 1066.66,486.56C1066.94,486.56 1067.21,474.47 1067.49,474.08C1067.88,473.52 1068.27,473.25 1068.66,473.25C1068.99,473.25 1069.32,480.46 1069.66,483.23C1069.99,486.01 1070.32,489.34 1070.65,489.89C1070.99,490.45 1071.32,490.73 1071.65,490.73C1071.99,490.73 1072.32,474.91 1072.65,474.91C1072.98,474.91 1073.32,474.91 1073.65,474.91C1073.98,474.91 1074.32,480.86 1074.65,483.23C1075.04,486.00 1075.43,489.89 1075.81,489.89C1076.09,489.89 1076.37,470.38 1076.65,469.92C1076.98,469.36 1077.31,469.08 1077.65,469.08C1077.98,469.08 1078.31,489.89 1078.64,489.89C1078.98,489.89 1079.31,473.80 1079.64,473.25C1079.98,472.69 1080.31,472.41 1080.64,472.41C1080.98,472.41 1081.31,490.73 1081.64,490.73C1081.97,490.73 1082.31,473.25 1082.64,473.25C1082.86,473.25 1083.08,473.25 1083.31,473.25C1083.53,473.25 1083.75,466.59 1083.97,466.59C1084.42,466.59 1084.86,466.59 1085.30,466.59C1085.53,466.59 1085.75,495.07 1085.97,496.55C1086.47,499.88 1086.97,501.55 1087.47,501.55C1088.02,501.55 1088.58,500.99 1089.13,499.88C1089.41,499.33 1089.69,480.74 1089.96,480.74C1090.30,480.74 1090.63,480.74 1090.96,480.74C1091.19,480.74 1091.41,478.52 1091.63,478.24C1092.07,477.69 1092.52,477.41 1092.96,477.41C1093.18,477.41 1093.40,499.88 1093.63,499.88C1094.07,499.88 1094.51,499.88 1094.96,499.88C1095.29,499.88 1095.62,440.95 1095.96,440.78C1096.62,440.45 1097.29,440.29 1097.95,440.29C1098.18,440.29 1098.40,501.55 1098.62,501.55C1099.34,501.55 1100.06,500.49 1100.78,499.88C1101.40,499.37 1102.01,499.33 1102.62,498.22C1102.84,497.81 1103.06,479.29 1103.28,479.07C1103.61,478.74 1103.95,478.57 1104.28,478.57C1104.50,478.57 1104.72,494.89 1104.95,494.89C1105.28,494.89 1105.61,486.56 1105.95,486.56C1106.28,486.56 1106.61,493.22 1106.94,493.22C1107.28,493.22 1107.61,445.08 1107.94,444.95C1108.50,444.72 1109.05,444.61 1109.61,444.61C1109.94,444.61 1110.27,493.22 1110.61,493.22C1110.94,493.22 1111.27,488.23 1111.61,488.23C1111.94,488.23 1112.27,488.78 1112.60,489.89C1112.83,490.63 1113.05,499.88 1113.27,499.88C1113.60,499.88 1113.94,499.88 1114.27,499.88C1114.60,499.88 1114.93,474.71 1115.27,466.59C1115.71,455.75 1116.16,450.16 1116.60,449.94C1117.04,449.72 1117.49,449.61 1117.93,449.61C1118.15,449.61 1118.37,496.55 1118.60,496.55C1119.15,496.55 1119.71,496.55 1120.26,496.55C1120.71,496.55 1121.15,499.88 1121.59,499.88C1122.26,499.88 1122.93,499.88 1123.59,499.88C1123.81,499.88 1124.03,443.39 1124.26,443.28C1124.70,443.06 1125.14,442.95 1125.59,442.95C1125.81,442.95 1126.03,499.88 1126.25,499.88C1127.48,499.88 1128.70,499.55 1129.92,499.55C1130.58,499.55 1131.25,499.88 1131.91,499.88C1132.36,499.88 1132.80,495.11 1133.25,494.89C1133.69,494.67 1134.13,494.55 1134.58,494.55C1134.91,494.55 1135.24,499.38 1135.58,499.55C1136.46,499.99 1137.35,500.21 1138.24,500.21C1139.35,500.21 1140.46,500.10 1141.57,499.88C1141.96,499.80 1142.35,490.98 1142.73,490.73C1143.23,490.39 1143.73,490.23 1144.23,490.23C1144.57,490.23 1144.90,499.81 1145.23,499.88C1146.23,500.10 1147.23,500.02 1148.23,500.21C1149.62,500.49 1151.00,501.55 1152.39,501.55C1153.11,501.55 1153.83,500.38 1154.55,500.38C1155.50,500.38 1156.44,501.88 1157.38,501.88C1158.22,501.88 1159.05,499.95 1159.88,499.55C1161.27,498.88 1162.66,498.55 1164.04,498.55C1164.60,498.55 1165.15,501.55 1165.71,501.55C1166.26,501.55 1166.82,500.99 1167.37,499.88C1167.76,499.10 1168.15,483.72 1168.54,483.23C1168.98,482.68 1169.43,482.40 1169.87,482.40C1170.31,482.40 1170.76,489.06 1171.20,493.22C1171.42,495.30 1171.64,499.77 1171.87,499.88C1172.31,500.10 1172.75,500.21 1173.20,500.21C1173.75,500.21 1174.31,498.88 1174.86,498.55C1175.14,498.38 1175.42,498.30 1175.70,498.22L1175.70,557.5L639.80,557.5Z" fill="url(#rg)" stroke="none"/>
  <path d="M639.80,494.00C640.14,493.89 640.49,493.78 640.83,493.33C641.11,492.97 641.39,490.00 641.67,490.00C642.22,490.00 642.78,498.33 643.33,498.33C644.17,498.33 645.00,496.19 645.83,495.00C646.39,494.20 646.94,492.50 647.50,492.50C648.06,492.50 648.61,496.67 649.17,496.67C649.89,496.67 650.61,496.39 651.33,495.83C651.72,495.53 652.11,485.56 652.50,485.00C652.89,484.44 653.28,484.17 653.67,484.17C654.00,484.17 654.33,496.67 654.67,496.67C655.33,496.67 656.00,496.67 656.67,496.67C657.22,496.67 657.78,498.75 658.33,500.00C658.89,501.25 659.44,504.17 660.00,504.17C661.11,504.17 662.22,502.94 663.33,502.50C665.00,501.84 666.67,501.33 668.33,501.33C669.44,501.33 670.56,504.17 671.67,504.17C672.50,504.17 673.33,502.22 674.17,501.67C675.00,501.11 675.83,500.83 676.67,500.83C677.50,500.83 678.33,504.67 679.17,505.00C679.72,505.22 680.28,505.33 680.83,505.33C681.67,505.33 682.50,502.97 683.33,502.50C684.72,501.72 686.11,501.33 687.50,501.33C688.89,501.33 690.28,504.67 691.67,504.67C693.06,504.67 694.44,501.33 695.83,501.33C696.94,501.33 698.06,504.67 699.17,504.67C700.28,504.67 701.39,501.33 702.50,501.33C705.56,501.33 708.61,501.33 711.67,501.33C712.22,501.33 712.78,496.76 713.33,495.83C714.00,494.72 714.67,494.17 715.33,494.17C716.06,494.17 716.78,498.66 717.50,500.00C718.06,501.03 718.61,502.00 719.17,502.00C720.00,502.00 720.83,498.00 721.67,497.50C722.22,497.17 722.78,497.00 723.33,497.00C724.44,497.00 725.56,499.67 726.67,499.67C727.78,499.67 728.89,498.67 730.00,498.67C731.67,498.67 733.33,498.67 735.00,498.67C735.83,498.67 736.67,501.74 737.50,502.50C738.06,503.01 738.61,503.33 739.17,503.33C740.28,503.33 741.39,501.67 742.50,501.67C743.89,501.67 745.28,503.33 746.67,503.33C747.78,503.33 748.89,501.67 750.00,501.67C753.06,501.67 756.11,501.67 759.17,501.67C760.56,501.67 761.94,499.45 763.33,498.67C764.17,498.20 765.00,497.50 765.83,497.50C766.67,497.50 767.50,500.15 768.33,500.83C769.00,501.38 769.67,501.67 770.33,501.67C771.06,501.67 771.78,499.17 772.50,499.17C773.06,499.17 773.61,499.17 774.17,499.17C774.89,499.17 775.61,503.31 776.33,503.67C777.00,504.00 777.67,504.17 778.33,504.17C779.17,504.17 780.00,500.83 780.83,500.83C782.78,500.83 784.72,500.83 786.67,500.83C787.78,500.83 788.89,502.00 790.00,502.00C791.11,502.00 792.22,499.67 793.33,499.67C794.44,499.67 795.56,500.67 796.67,500.67C798.33,500.67 800.00,500.67 801.67,500.67C802.78,500.67 803.89,503.00 805.00,503.00C805.83,503.00 806.67,500.00 807.50,500.00C808.06,500.00 808.61,500.00 809.17,500.00C810.00,500.00 810.83,495.67 811.67,495.33C812.22,495.11 812.78,495.00 813.33,495.00C814.17,495.00 815.00,498.89 815.83,500.00C816.67,501.11 817.50,500.98 818.33,501.67C818.89,502.12 819.44,503.21 820.00,503.21C820.28,503.21 820.55,478.39 820.83,466.59C821.00,459.51 821.17,445.78 821.33,445.78C821.61,445.78 821.89,445.78 822.16,445.78C822.44,445.78 822.72,459.40 823.00,466.59C823.38,476.64 823.77,497.44 824.16,498.22C824.99,499.88 825.83,500.71 826.66,500.71C827.10,500.71 827.55,490.18 827.99,483.23C828.38,477.16 828.77,462.43 829.16,462.43C829.54,462.43 829.93,462.43 830.32,462.43C830.65,462.43 830.99,474.97 831.32,483.23C831.54,488.75 831.76,501.27 831.99,501.55C832.43,502.10 832.87,502.38 833.32,502.38C833.87,502.38 834.43,498.16 834.98,497.38C835.54,496.61 836.09,496.22 836.65,496.22C837.48,496.22 838.31,500.71 839.14,500.71C839.98,500.71 840.81,500.38 841.64,500.21C842.75,499.99 843.86,499.55 844.97,499.55C846.08,499.55 847.19,499.66 848.30,499.88C849.13,500.05 849.96,502.88 850.80,502.88C851.63,502.88 852.46,502.49 853.29,501.88C853.96,501.39 854.63,501.21 855.29,499.88C855.85,498.77 856.40,472.51 856.96,466.59C857.29,463.04 857.62,461.26 857.95,461.26C858.34,461.26 858.73,463.04 859.12,466.59C859.40,469.12 859.67,499.88 859.95,499.88C860.29,499.88 860.62,473.25 860.95,473.25C861.28,473.25 861.62,498.77 861.95,499.88C862.28,500.99 862.62,501.55 862.95,501.55C863.23,501.55 863.50,473.80 863.78,466.59C864.06,459.37 864.34,455.77 864.61,455.77C864.95,455.77 865.28,459.37 865.61,466.59C865.95,473.80 866.28,501.55 866.61,501.55C867.17,501.55 867.72,501.55 868.28,501.55C868.55,501.55 868.83,473.80 869.11,471.58C869.39,469.36 869.66,468.25 869.94,468.25C870.27,468.25 870.61,469.36 870.94,471.58C871.27,473.80 871.61,499.88 871.94,499.88C872.66,499.88 873.38,499.88 874.10,499.88C874.49,499.88 874.88,480.88 875.27,479.90C875.71,478.80 876.16,478.24 876.60,478.24C876.88,478.24 877.15,496.55 877.43,496.55C877.82,496.55 878.21,496.00 878.60,494.89C878.93,493.94 879.26,474.20 879.60,473.25C879.98,472.14 880.37,471.58 880.76,471.58C881.15,471.58 881.54,490.79 881.93,493.22C882.37,496.00 882.81,497.38 883.26,497.38C883.54,497.38 883.81,462.39 884.09,461.59C884.48,460.48 884.87,459.93 885.26,459.93C885.59,459.93 885.92,479.90 886.25,479.90C886.48,479.90 886.70,455.49 886.92,454.93C887.36,453.82 887.81,453.27 888.25,453.27C888.36,453.27 888.47,486.56 888.59,486.56C889.03,486.56 889.47,463.26 889.92,463.26C890.19,463.26 890.47,478.24 890.75,478.24C891.03,478.24 891.30,442.08 891.58,441.62C891.91,441.06 892.25,440.78 892.58,440.78C892.80,440.78 893.02,476.58 893.25,476.58C893.52,476.58 893.80,458.26 894.08,458.26C894.36,458.26 894.63,472.41 894.91,473.25C895.47,474.91 896.02,474.08 896.58,475.74C897.13,477.41 897.69,483.51 898.24,484.90C898.68,486.01 899.13,486.56 899.57,486.56C899.96,486.56 900.35,480.99 900.74,478.24C901.29,474.31 901.85,472.41 902.40,466.59C902.96,460.76 903.51,444.07 904.07,443.28C904.46,442.73 904.84,442.45 905.23,442.45C905.40,442.45 905.56,453.27 905.73,453.27C906.01,453.27 906.29,439.95 906.56,439.95C906.84,439.95 907.12,440.23 907.40,440.78C907.67,441.34 907.95,464.37 908.23,466.59C908.78,471.03 909.34,472.14 909.89,473.25C910.17,473.80 910.45,474.08 910.73,474.08C911.11,474.08 911.50,453.76 911.89,453.27C912.33,452.72 912.78,452.44 913.22,452.44C913.50,452.44 913.78,466.59 914.05,466.59C914.44,466.59 914.83,466.31 915.22,465.76C915.55,465.28 915.89,443.76 916.22,443.28C916.61,442.73 917.00,442.45 917.38,442.45C917.66,442.45 917.94,451.61 918.22,451.61C918.66,451.61 919.10,438.29 919.55,438.29C919.94,438.29 920.33,438.29 920.71,438.29C920.99,438.29 921.27,456.46 921.55,466.59C921.82,476.71 922.10,499.05 922.38,499.05C922.77,499.05 923.15,489.44 923.54,483.23C923.99,476.14 924.43,458.26 924.88,458.26C925.26,458.26 925.65,458.26 926.04,458.26C926.21,458.26 926.37,483.23 926.54,483.23C926.82,483.23 927.09,471.98 927.37,471.58C927.76,471.03 928.15,471.30 928.54,470.75C928.76,470.43 928.98,440.78 929.20,440.78C929.54,440.78 929.87,440.78 930.20,440.78C930.42,440.78 930.65,471.58 930.87,471.58C931.20,471.58 931.53,466.59 931.87,466.59C932.20,466.59 932.53,466.59 932.87,466.59C933.14,466.59 933.42,494.89 933.70,494.89C934.09,494.89 934.47,494.89 934.86,494.89C935.42,494.89 935.97,491.56 936.53,491.56C937.08,491.56 937.64,491.56 938.19,491.56C938.75,491.56 939.30,484.34 939.86,483.23C940.41,482.12 940.97,481.57 941.52,481.57C942.35,481.57 943.19,481.57 944.02,481.57C944.41,481.57 944.80,494.89 945.18,494.89C945.41,494.89 945.63,460.34 945.85,449.94C946.07,439.54 946.29,432.46 946.52,432.46C946.96,432.46 947.40,432.46 947.85,432.46C948.07,432.46 948.29,469.92 948.51,469.92C948.74,469.92 948.96,455.63 949.18,449.94C949.45,442.93 949.73,438.31 950.00,433.29C950.28,428.20 950.55,419.64 950.83,419.64C951.22,419.64 951.61,419.64 952.00,419.64C952.22,419.64 952.44,478.80 952.66,483.23C952.89,487.67 953.11,489.89 953.33,489.89C953.55,489.89 953.77,426.63 954.00,426.63C954.44,426.63 954.88,426.63 955.33,426.63C955.55,426.63 955.77,479.78 955.99,483.23C956.49,491.00 956.99,494.39 957.49,494.89C958.05,495.44 958.60,495.72 959.16,495.72C959.43,495.72 959.71,429.96 959.99,429.96C960.43,429.96 960.88,429.96 961.32,429.96C961.54,429.96 961.76,496.55 961.99,496.55C962.54,496.55 963.10,496.55 963.65,496.55C963.87,496.55 964.09,454.10 964.32,454.10C964.65,454.10 964.98,454.10 965.32,454.10C965.54,454.10 965.76,497.38 965.98,497.38C966.37,497.38 966.76,443.28 967.15,443.28C967.65,443.28 968.15,443.28 968.64,443.28C968.87,443.28 969.09,496.55 969.31,496.55C969.75,496.55 970.20,434.96 970.64,434.96C971.09,434.96 971.53,434.96 971.97,434.96C972.20,434.96 972.42,498.22 972.64,498.22C972.97,498.22 973.31,449.11 973.64,449.11C974.08,449.11 974.53,449.11 974.97,449.11C975.30,449.11 975.64,491.19 975.97,491.56C976.47,492.11 976.97,491.84 977.47,492.39C977.86,492.82 978.24,499.88 978.63,499.88C979.63,499.88 980.63,498.22 981.63,498.22C982.46,498.22 983.29,501.55 984.13,501.55C984.68,501.55 985.24,489.89 985.79,489.89C986.18,489.89 986.57,496.55 986.96,496.55C987.29,496.55 987.62,450.50 987.95,449.94C988.29,449.39 988.62,449.11 988.95,449.11C989.29,449.11 989.62,483.23 989.95,483.23C990.23,483.23 990.51,466.59 990.78,466.59C991.06,466.59 991.34,480.32 991.62,486.56C991.89,492.81 992.17,504.04 992.45,504.04C992.84,504.04 993.23,502.66 993.61,499.88C994.06,496.71 994.50,444.67 994.95,444.11C995.39,443.56 995.83,443.28 996.28,443.28C996.50,443.28 996.72,493.22 996.94,493.22C997.39,493.22 997.83,492.94 998.28,492.39C998.55,492.04 998.83,451.61 999.11,451.61C999.50,451.61 999.89,451.61 1000.27,451.61C1000.50,451.61 1000.72,489.67 1000.94,489.89C1001.49,490.45 1002.05,490.73 1002.60,490.73C1002.83,490.73 1003.05,433.57 1003.27,433.29C1003.71,432.74 1004.16,432.46 1004.60,432.46C1004.93,432.46 1005.27,489.89 1005.60,489.89C1006.16,489.89 1006.71,450.08 1007.27,433.29C1007.49,426.58 1007.71,414.15 1007.93,414.15C1008.26,414.15 1008.60,414.15 1008.93,414.15C1009.15,414.15 1009.37,495.72 1009.60,495.72C1009.98,495.72 1010.37,436.92 1010.76,436.62C1011.48,436.07 1012.20,435.79 1012.93,435.79C1013.15,435.79 1013.37,486.56 1013.59,486.56C1013.92,486.56 1014.26,451.61 1014.59,451.61C1014.92,451.61 1015.26,451.61 1015.59,451.61C1015.81,451.61 1016.03,492.39 1016.25,492.39C1016.64,492.39 1017.03,454.93 1017.42,454.93C1017.70,454.93 1017.97,454.93 1018.25,454.93C1018.47,454.93 1018.70,490.73 1018.92,490.73C1019.25,490.73 1019.58,490.45 1019.92,489.89C1020.36,489.15 1020.80,445.50 1021.25,444.95C1021.69,444.39 1022.14,444.11 1022.58,444.11C1022.91,444.11 1023.25,449.39 1023.58,458.26C1023.80,464.18 1024.02,481.57 1024.24,481.57C1024.58,481.57 1024.91,457.43 1025.24,457.43C1025.58,457.43 1025.91,457.43 1026.24,457.43C1026.46,457.43 1026.69,481.57 1026.91,483.23C1027.35,486.56 1027.80,488.23 1028.24,488.23C1028.68,488.23 1029.13,487.12 1029.57,484.90C1029.96,482.96 1030.35,466.03 1030.74,461.59C1031.13,457.15 1031.51,455.58 1031.90,454.93C1032.24,454.38 1032.57,454.10 1032.90,454.10C1033.12,454.10 1033.35,483.60 1033.57,486.56C1033.90,491.00 1034.23,493.22 1034.57,493.22C1034.79,493.22 1035.01,435.96 1035.23,435.79C1035.68,435.46 1036.12,435.29 1036.56,435.29C1036.79,435.29 1037.01,494.89 1037.23,494.89C1037.56,494.89 1037.90,435.51 1038.23,434.96C1038.56,434.40 1038.89,434.13 1039.23,434.13C1039.45,434.13 1039.67,489.89 1039.89,489.89C1040.23,489.89 1040.56,439.12 1040.89,439.12C1041.34,439.12 1041.78,439.12 1042.22,439.12C1042.45,439.12 1042.67,489.71 1042.89,489.89C1043.56,490.45 1044.22,490.73 1044.89,490.73C1045.22,490.73 1045.55,424.55 1045.89,424.14C1046.33,423.58 1046.77,423.31 1047.22,423.31C1047.55,423.31 1047.88,424.42 1048.22,426.63C1048.55,428.85 1048.88,491.56 1049.22,491.56C1049.66,491.56 1050.10,434.40 1050.55,433.29C1050.99,432.18 1051.43,431.63 1051.88,431.63C1052.10,431.63 1052.32,431.63 1052.54,431.63C1052.88,431.63 1053.21,494.33 1053.54,494.89C1053.88,495.44 1054.21,495.72 1054.54,495.72C1054.76,495.72 1054.99,453.55 1055.21,453.27C1055.65,452.72 1056.10,452.44 1056.54,452.44C1056.87,452.44 1057.21,488.23 1057.54,488.23C1057.98,488.23 1058.43,487.95 1058.87,487.40C1059.25,486.93 1059.62,436.62 1060.00,436.62C1060.33,436.62 1060.67,436.62 1061.00,436.62C1061.22,436.62 1061.44,486.56 1061.66,486.56C1062.11,486.56 1062.55,466.59 1063.00,466.59C1063.44,466.59 1063.88,466.59 1064.33,466.59C1064.55,466.59 1064.77,486.56 1064.99,486.56C1065.55,486.56 1066.10,486.56 1066.66,486.56C1066.94,486.56 1067.21,474.47 1067.49,474.08C1067.88,473.52 1068.27,473.25 1068.66,473.25C1068.99,473.25 1069.32,480.46 1069.66,483.23C1069.99,486.01 1070.32,489.34 1070.65,489.89C1070.99,490.45 1071.32,490.73 1071.65,490.73C1071.99,490.73 1072.32,474.91 1072.65,474.91C1072.98,474.91 1073.32,474.91 1073.65,474.91C1073.98,474.91 1074.32,480.86 1074.65,483.23C1075.04,486.00 1075.43,489.89 1075.81,489.89C1076.09,489.89 1076.37,470.38 1076.65,469.92C1076.98,469.36 1077.31,469.08 1077.65,469.08C1077.98,469.08 1078.31,489.89 1078.64,489.89C1078.98,489.89 1079.31,473.80 1079.64,473.25C1079.98,472.69 1080.31,472.41 1080.64,472.41C1080.98,472.41 1081.31,490.73 1081.64,490.73C1081.97,490.73 1082.31,473.25 1082.64,473.25C1082.86,473.25 1083.08,473.25 1083.31,473.25C1083.53,473.25 1083.75,466.59 1083.97,466.59C1084.42,466.59 1084.86,466.59 1085.30,466.59C1085.53,466.59 1085.75,495.07 1085.97,496.55C1086.47,499.88 1086.97,501.55 1087.47,501.55C1088.02,501.55 1088.58,500.99 1089.13,499.88C1089.41,499.33 1089.69,480.74 1089.96,480.74C1090.30,480.74 1090.63,480.74 1090.96,480.74C1091.19,480.74 1091.41,478.52 1091.63,478.24C1092.07,477.69 1092.52,477.41 1092.96,477.41C1093.18,477.41 1093.40,499.88 1093.63,499.88C1094.07,499.88 1094.51,499.88 1094.96,499.88C1095.29,499.88 1095.62,440.95 1095.96,440.78C1096.62,440.45 1097.29,440.29 1097.95,440.29C1098.18,440.29 1098.40,501.55 1098.62,501.55C1099.34,501.55 1100.06,500.49 1100.78,499.88C1101.40,499.37 1102.01,499.33 1102.62,498.22C1102.84,497.81 1103.06,479.29 1103.28,479.07C1103.61,478.74 1103.95,478.57 1104.28,478.57C1104.50,478.57 1104.72,494.89 1104.95,494.89C1105.28,494.89 1105.61,486.56 1105.95,486.56C1106.28,486.56 1106.61,493.22 1106.94,493.22C1107.28,493.22 1107.61,445.08 1107.94,444.95C1108.50,444.72 1109.05,444.61 1109.61,444.61C1109.94,444.61 1110.27,493.22 1110.61,493.22C1110.94,493.22 1111.27,488.23 1111.61,488.23C1111.94,488.23 1112.27,488.78 1112.60,489.89C1112.83,490.63 1113.05,499.88 1113.27,499.88C1113.60,499.88 1113.94,499.88 1114.27,499.88C1114.60,499.88 1114.93,474.71 1115.27,466.59C1115.71,455.75 1116.16,450.16 1116.60,449.94C1117.04,449.72 1117.49,449.61 1117.93,449.61C1118.15,449.61 1118.37,496.55 1118.60,496.55C1119.15,496.55 1119.71,496.55 1120.26,496.55C1120.71,496.55 1121.15,499.88 1121.59,499.88C1122.26,499.88 1122.93,499.88 1123.59,499.88C1123.81,499.88 1124.03,443.39 1124.26,443.28C1124.70,443.06 1125.14,442.95 1125.59,442.95C1125.81,442.95 1126.03,499.88 1126.25,499.88C1127.48,499.88 1128.70,499.55 1129.92,499.55C1130.58,499.55 1131.25,499.88 1131.91,499.88C1132.36,499.88 1132.80,495.11 1133.25,494.89C1133.69,494.67 1134.13,494.55 1134.58,494.55C1134.91,494.55 1135.24,499.38 1135.58,499.55C1136.46,499.99 1137.35,500.21 1138.24,500.21C1139.35,500.21 1140.46,500.10 1141.57,499.88C1141.96,499.80 1142.35,490.98 1142.73,490.73C1143.23,490.39 1143.73,490.23 1144.23,490.23C1144.57,490.23 1144.90,499.81 1145.23,499.88C1146.23,500.10 1147.23,500.02 1148.23,500.21C1149.62,500.49 1151.00,501.55 1152.39,501.55C1153.11,501.55 1153.83,500.38 1154.55,500.38C1155.50,500.38 1156.44,501.88 1157.38,501.88C1158.22,501.88 1159.05,499.95 1159.88,499.55C1161.27,498.88 1162.66,498.55 1164.04,498.55C1164.60,498.55 1165.15,501.55 1165.71,501.55C1166.26,501.55 1166.82,500.99 1167.37,499.88C1167.76,499.10 1168.15,483.72 1168.54,483.23C1168.98,482.68 1169.43,482.40 1169.87,482.40C1170.31,482.40 1170.76,489.06 1171.20,493.22C1171.42,495.30 1171.64,499.77 1171.87,499.88C1172.31,500.10 1172.75,500.21 1173.20,500.21C1173.75,500.21 1174.31,498.88 1174.86,498.55C1175.14,498.38 1175.42,498.30 1175.70,498.22" fill="none" stroke="#ff5064" stroke-width="3.45" stroke-linecap="butt" stroke-linejoin="round"/>
  <!-- right: icons -->
  <path d="M645.5,194.4L632.6,206.3L645.5,218.2" fill="none" stroke="#222" stroke-width="2" stroke-linecap="round"/>
  <circle cx="672.5" cy="271.7" r="17.4" fill="#f0f0f0"/>
  <circle cx="1125" cy="271.7" r="17.4" fill="#f0f0f0"/>
  <path d="M677.5,263.7L667,271.7L677.5,279.9" fill="none" stroke="#cacaca" stroke-width="2.4" stroke-linecap="round"/>
  <path d="M1120,263.7L1130.5,271.7L1120,279.9" fill="none" stroke="#cacaca" stroke-width="2.4" stroke-linecap="round"/>
  <g fill="#222"><circle cx="1082.4" cy="206.1" r="3.5"/><circle cx="1098.4" cy="197.4" r="3.5"/><circle cx="1098.4" cy="214.8" r="3.5"/></g>
  <path d="M1098.4,197.4L1082.4,206.1L1098.4,214.8" fill="none" stroke="#222" stroke-width="1.9"/>
  <g fill="none" stroke="#222" stroke-width="2">
    <rect x="1143" y="196.8" width="22.7" height="21.3" rx="2"/>
    <path d="M1143,203.2H1165.7M1148.8,193.1V199.7M1159.1,193.1V199.7M1148.6,209.6L1153.4,214L1160.3,207.9"/>
  </g>
  <g fill="#ff4564"><circle cx="631.6" cy="677.3" r="8.3"/><circle cx="647.1" cy="677.3" r="8.3"/><path d="M639.35,696.4L625.84,683.28L631.6,677.3L639.35,673.2L647.1,677.3L652.86,683.28Z"/></g>
</svg>
<div class="t " style="left:79.77px;top:7.75px;font-size:32.50px;line-height:32.50px;color:#e3e5e3;transform:scaleX(1.0252);">Heart</div>
<div class="t " style="left:118.21px;top:94.60px;font-size:22.60px;line-height:22.60px;color:#7fcdf6;transform:scaleX(1.0707);-webkit-text-stroke:0.80px #7fcdf6;">Day</div>
<div class="t " style="left:240.30px;top:94.60px;font-size:22.60px;line-height:22.60px;color:#c4c9c5;transform:scaleX(1.0554);-webkit-text-stroke:0.80px #c4c9c5;">Week</div>
<div class="t " style="left:364.71px;top:94.60px;font-size:22.60px;line-height:22.60px;color:#c4c9c5;transform:scaleX(1.1800);-webkit-text-stroke:0.80px #c4c9c5;">Month</div>
<div class="t " style="left:480.93px;top:94.60px;font-size:22.60px;line-height:22.60px;color:#c4c9c5;transform:scaleX(1.1229);-webkit-text-stroke:0.80px #c4c9c5;">3 Months</div>
<div class="t " style="left:244.48px;top:185.80px;font-size:24.60px;line-height:24.60px;color:#e3e5e3;-webkit-text-stroke:0.60px #e3e5e3;">Sat 2 Aug</div>
<div class="t " style="left:33.34px;top:287.55px;font-size:66.30px;line-height:66.30px;color:#e3e5e3;transform:scaleX(1.0774);">50</div>
<div class="t " style="left:117.20px;top:282.45px;font-size:66.30px;line-height:66.30px;color:#e3e5e3;transform:scaleX(0.8550);">–</div>
<div class="t " style="left:151.96px;top:287.55px;font-size:66.30px;line-height:66.30px;color:#e3e5e3;transform:scaleX(0.9775);">96</div>
<div class="t " style="left:230.10px;top:326.55px;font-size:20.30px;line-height:20.30px;color:#e3e5e3;transform:scaleX(1.0721);">bpm</div>
<div class="t " style="left:33.56px;top:365.00px;font-size:21.00px;line-height:21.00px;color:#c4c9c5;transform:scaleX(1.0267);-webkit-text-stroke:0.25px #c4c9c5;">High of 96 bpm in light zone</div>
<div class="t " style="left:559.84px;top:437.40px;font-size:17.00px;line-height:17.00px;color:#adb3af;transform:scaleX(0.8956);-webkit-text-stroke:0.20px #adb3af;">101</div>
<div class="t " style="left:560.08px;top:578.20px;font-size:17.00px;line-height:17.00px;color:#adb3af;transform:scaleX(1.0506);-webkit-text-stroke:0.20px #adb3af;">75</div>
<div class="t " style="left:560.69px;top:740.60px;font-size:17.00px;line-height:17.00px;color:#adb3af;transform:scaleX(1.0446);-webkit-text-stroke:0.20px #adb3af;">45</div>
<div class="t " style="left:39.64px;top:763.20px;font-size:17.00px;line-height:17.00px;color:#adb3af;transform:scaleX(0.9754);-webkit-text-stroke:0.20px #adb3af;">0</div>
<div class="t " style="left:122.94px;top:763.20px;font-size:17.00px;line-height:17.00px;color:#adb3af;transform:scaleX(0.9767);-webkit-text-stroke:0.20px #adb3af;">4</div>
<div class="t " style="left:206.39px;top:763.20px;font-size:17.00px;line-height:17.00px;color:#adb3af;transform:scaleX(0.9749);-webkit-text-stroke:0.20px #adb3af;">8</div>
<div class="t " style="left:284.94px;top:763.20px;font-size:17.00px;line-height:17.00px;color:#adb3af;transform:scaleX(0.9881);-webkit-text-stroke:0.20px #adb3af;">12</div>
<div class="t " style="left:368.14px;top:763.20px;font-size:17.00px;line-height:17.00px;color:#adb3af;transform:scaleX(0.9881);-webkit-text-stroke:0.20px #adb3af;">16</div>
<div class="t " style="left:451.31px;top:763.20px;font-size:17.00px;line-height:17.00px;color:#adb3af;transform:scaleX(0.9885);-webkit-text-stroke:0.20px #adb3af;">20</div>
<div class="t " style="left:513.85px;top:763.20px;font-size:17.00px;line-height:17.00px;color:#adb3af;transform:scaleX(0.9884);-webkit-text-stroke:0.20px #adb3af;">23</div>
<div class="t " style="left:57.22px;top:786.75px;font-size:20.50px;line-height:20.50px;color:#c4c9c5;transform:scaleX(1.0605);">Light</div>
<div class="t " style="left:841.25px;top:194.40px;font-size:26.00px;line-height:26.00px;color:#222222;transform:scaleX(1.0097);">Heart rate</div>
<div class="t " style="left:847.28px;top:263.00px;font-size:20.00px;line-height:20.00px;color:#777777;transform:scaleX(1.0172);">2 Aug 2025</div>
<div class="t " style="left:607.13px;top:343.00px;font-size:15.20px;line-height:15.20px;color:#b0b0b0;">200</div>
<div class="t " style="left:607.13px;top:394.50px;font-size:15.20px;line-height:15.20px;color:#b0b0b0;">150</div>
<div class="t " style="left:607.13px;top:446.00px;font-size:15.20px;line-height:15.20px;color:#b0b0b0;">100</div>
<div class="t " style="left:615.59px;top:497.50px;font-size:15.20px;line-height:15.20px;color:#b0b0b0;">50</div>
<div class="t " style="left:623.44px;top:549.00px;font-size:15.20px;line-height:15.20px;color:#b0b0b0;">0</div>
<div class="t " style="left:617.31px;top:565.30px;font-size:17.40px;line-height:17.40px;color:#bbbbbb;transform:scaleX(1.0095);">00:56</div>
<div class="t " style="left:751.91px;top:565.30px;font-size:17.40px;line-height:17.40px;color:#bbbbbb;transform:scaleX(1.0086);">06:39</div>
<div class="t " style="left:885.14px;top:565.30px;font-size:17.40px;line-height:17.40px;color:#bbbbbb;transform:scaleX(1.0253);">12:23</div>
<div class="t " style="left:1019.14px;top:565.30px;font-size:17.40px;line-height:17.40px;color:#bbbbbb;transform:scaleX(1.0253);">18:06</div>
<div class="t " style="left:1153.61px;top:565.30px;font-size:17.40px;line-height:17.40px;color:#bbbbbb;transform:scaleX(1.0122);">23:50</div>
<div class="t " style="left:663.73px;top:660.50px;font-size:48.00px;line-height:48.00px;color:#222222;transform:scaleX(1.0657);font-weight:700;">55</div>
<div class="t " style="left:736.15px;top:661.30px;font-size:18.40px;line-height:18.40px;color:#777777;transform:scaleX(1.0255);">Resting heart rate</div>
<div class="t " style="left:736.41px;top:686.75px;font-size:18.90px;line-height:18.90px;color:#777777;transform:scaleX(1.0582);">bpm</div>
<div class="t " style="left:634.21px;top:750.90px;font-size:19.20px;line-height:19.20px;color:#666666;transform:scaleX(1.0496);">Avg. heart rate</div>
<div class="t " style="left:808.79px;top:750.90px;font-size:19.20px;line-height:19.20px;color:#666666;transform:scaleX(1.0862);">Minimum heart rate</div>
<div class="t " style="left:1005.80px;top:750.90px;font-size:19.20px;line-height:19.20px;color:#666666;transform:scaleX(1.0815);">Maximum heart rate</div>
<div class="t " style="left:661.17px;top:787.00px;font-size:29.00px;line-height:29.00px;color:#222222;transform:scaleX(1.0637);font-weight:700;">72</div>
<div class="t " style="left:698.69px;top:790.85px;font-size:19.30px;line-height:19.30px;color:#606060;transform:scaleX(1.0491);">bpm</div>
<div class="t " style="left:861.13px;top:787.00px;font-size:29.00px;line-height:29.00px;color:#222222;transform:scaleX(0.9719);font-weight:700;">51</div>
<div class="t " style="left:898.20px;top:790.85px;font-size:19.30px;line-height:19.30px;color:#606060;transform:scaleX(1.0420);">bpm</div>
<div class="t " style="left:1051.61px;top:787.00px;font-size:29.00px;line-height:29.00px;color:#222222;transform:scaleX(1.0334);font-weight:700;">139</div>
<div class="t " style="left:1105.92px;top:790.85px;font-size:19.30px;line-height:19.30px;color:#606060;transform:scaleX(1.0277);">bpm</div>
</body>
</html>
